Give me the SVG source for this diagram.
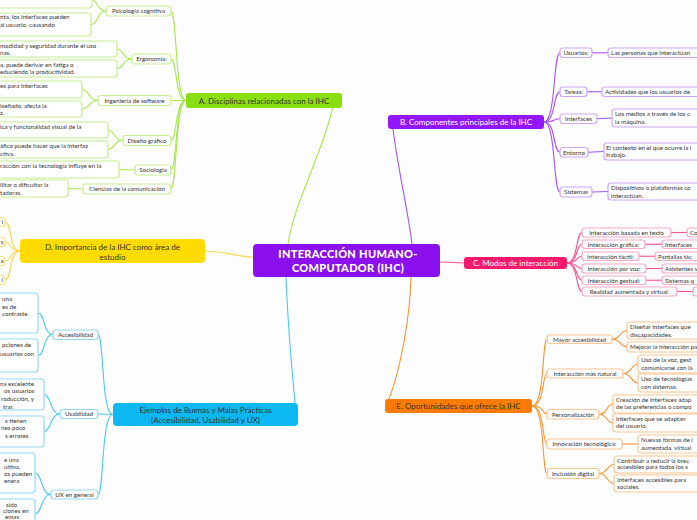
<svg xmlns="http://www.w3.org/2000/svg" width="697" height="520" viewBox="0 0 697 520">
<style>
text{font-family:Lato,"Open Sans","Noto Sans",sans-serif;fill:#333}
.t{font-size:6.2px}
.m{font-size:8px}
.c{text-anchor:middle}
.w{fill:#fff}
.g rect.s{stroke:#c6ef92}
.y rect.s{stroke:#f9e27a}
.b rect.s{stroke:#92d9f6}
.p rect.s{stroke:#cfa6fa}
.k rect.s{stroke:#f7a9c6}
.o rect.s{stroke:#fcc690}
rect.s{fill:#fff;stroke-width:1.2}
#conn path{fill:none;stroke-width:1.1}
.lg{stroke:#a6e84a}.ly{stroke:#f6d84a}.lb{stroke:#48c8f3}.lp{stroke:#a651f8}.lk{stroke:#f6528f}.lo{stroke:#fb9330}
</style>
<rect width="697" height="520" fill="#fdfdfd"/>
<g id="conn">
<path class="lg" d="M333,107 C320,160 295,200 288,244" stroke-width="1.3"/>
<path class="ly" d="M205,251 C232,252 236,257 253,257"/>
<path class="lb" d="M286,277 C288,330 292,370 295,403"/>
<path class="lp" d="M393,129 C398,170 408,210 412,244"/>
<path class="lk" d="M440,262 C450,262 455,263 464,263"/>
<path class="lo" d="M411,277 C410,320 400,370 389,399"/>
<path class="lg" d="M186,100.5 C175,100.5 177,11 171,11"/>
<path class="lg" d="M186,100.5 C175,100.5 177,59 171,59"/>
<path class="lg" d="M186,100.5 C178,100.5 177,100.5 171,100.5"/>
<path class="lg" d="M186,100.5 C175,100.5 177,140.5 171,140.5"/>
<path class="lg" d="M186,100.5 C175,100.5 177,170 171,170"/>
<path class="lg" d="M186,100.5 C175,100.5 177,189 171,189"/>
<path class="lg" d="M106,11 C97,11 98,0 92,0"/>
<path class="lg" d="M106,11 C97,11 98,24.5 91,24.5"/>
<path class="lg" d="M132,59 C122,59 124,49 117,49"/>
<path class="lg" d="M132,59 C122,59 124,68.5 117,68.5"/>
<path class="lg" d="M98,100.5 C88,100.5 90,89.5 82,89.5"/>
<path class="lg" d="M98,100.5 C88,100.5 90,109 82,109"/>
<path class="lg" d="M123,140.5 C113,140.5 115,130 108,130"/>
<path class="lg" d="M123,140.5 C113,140.5 115,149.5 108,149.5"/>
<path class="lg" d="M135,170 L119,169.5"/>
<path class="lg" d="M83,189 L68,188.5"/>
<path class="ly" d="M20,251 C9,251 12,222 5,222"/>
<path class="ly" d="M20,251 C9,251 12,242 5,242"/>
<path class="ly" d="M20,251 C9,251 12,261 5,261"/>
<path class="ly" d="M20,251 C9,251 12,280 5,280"/>
<path class="lb" d="M113,414.5 C101,414.5 104,334.5 98,334.5"/>
<path class="lb" d="M113,414.5 L98,414"/>
<path class="lb" d="M113,414.5 C101,414.5 104,494.5 98,494.5"/>
<path class="lb" d="M53,334.5 C43,334.5 45,313 38,313"/>
<path class="lb" d="M53,334.5 C43,334.5 45,355.5 38,355.5"/>
<path class="lb" d="M60,414 C50,414 51,394.5 44,394.5"/>
<path class="lb" d="M60,414 C50,414 51,431.5 44,431.5"/>
<path class="lb" d="M51,494.5 C41,494.5 42,473 35,473"/>
<path class="lb" d="M51,494.5 C41,494.5 42,514 35,514"/>
<path class="lp" d="M544,122 C556,122 553,52.75 560,52.75"/>
<path class="lp" d="M544,122 C556,122 553,91.75 560,91.75"/>
<path class="lp" d="M544,122 C556,122 553,118.75 560,118.75"/>
<path class="lp" d="M544,122 C556,122 553,152.25 560,152.25"/>
<path class="lp" d="M544,122 C556,122 553,192 560,192"/>
<path class="lp" d="M592,52.75 L608,52.75"/>
<path class="lp" d="M587,91.75 L602,91.75"/>
<path class="lp" d="M597,118.75 L612,118"/>
<path class="lp" d="M588,152.25 L604,151.5"/>
<path class="lp" d="M592,192 L608,191.5"/>
<path class="lk" d="M567,263 C578,263 576,232.5 582,232.5"/>
<path class="lk" d="M567,263 C578,263 576,244.25 582,244.25"/>
<path class="lk" d="M567,263 C578,263 576,256.25 582,256.25"/>
<path class="lk" d="M567,263 C578,263 576,268.5 582,268.5"/>
<path class="lk" d="M567,263 C578,263 576,280.25 582,280.25"/>
<path class="lk" d="M567,263 C578,263 576,291.5 582,291.5"/>
<path class="lk" d="M671,232.5 L687,232.5"/>
<path class="lk" d="M645,244.25 L662,244.25"/>
<path class="lk" d="M639,256.25 L655,256.25"/>
<path class="lk" d="M646,268.5 L662,268.5"/>
<path class="lk" d="M646,280.25 L662,280.25"/>
<path class="lk" d="M677,291.5 L693,291.5"/>
<path class="lo" d="M532,406 C545,406 542,339.25 547,339.25"/>
<path class="lo" d="M532,406 C545,406 542,373.5 547,373.5"/>
<path class="lo" d="M532,406 C545,406 542,414.25 547,414.25"/>
<path class="lo" d="M532,406 C545,406 542,444 547,444"/>
<path class="lo" d="M532,406 C545,406 542,473.5 547,473.5"/>
<path class="lo" d="M612,339.25 C621,339.25 620,330.5 627,330.5"/>
<path class="lo" d="M612,339.25 C621,339.25 620,347 627,347"/>
<path class="lo" d="M623,373.5 C632,373.5 631,364 638,364"/>
<path class="lo" d="M623,373.5 C632,373.5 631,383 638,383"/>
<path class="lo" d="M599,414.25 C608,414.25 606,404 613,404"/>
<path class="lo" d="M599,414.25 C608,414.25 606,423 613,423"/>
<path class="lo" d="M622,444 L638,444"/>
<path class="lo" d="M599,473.5 C608,473.5 607,464.5 614,464.5"/>
<path class="lo" d="M599,473.5 C608,473.5 607,483.5 614,483.5"/>
</g>

<g id="center">
<rect x="253" y="244" width="187" height="33" rx="4" fill="#8c0ff0"/>
<text class="c w" x="348" y="257.5" font-size="11" font-weight="900" letter-spacing="0.3">INTERACCIÓN HUMANO-</text>
<text class="c w" x="348" y="272" font-size="11" font-weight="900" letter-spacing="0.3">COMPUTADOR (IHC)</text>
</g>

<g id="nodeA" class="g">
<rect x="186" y="93" width="156" height="15" rx="3" fill="#8ae00e"/>
<text class="m c" x="264" y="103.5">A. Disciplinas relacionadas con la IHC</text>
</g>
<g id="a1" class="g"><rect class="s" x="106" y="6" width="65" height="10" rx="3"/><text class="t c" x="138.5" y="13.2">Psicología cognitiva</text></g>
<g id="a2" class="g"><rect class="s" x="132" y="54" width="39" height="10" rx="3"/><text class="t c" x="151.5" y="61.2">Ergonomía:</text></g>
<g id="a3" class="g"><rect class="s" x="98" y="95.5" width="73" height="10" rx="3"/><text class="t c" x="134.5" y="102.7">Ingeniería de software</text></g>
<g id="a4" class="g"><rect class="s" x="123" y="135.5" width="48" height="10" rx="3"/><text class="t c" x="147" y="142.7">Diseño gráfico</text></g>
<g id="a5" class="g"><rect class="s" x="135" y="165" width="36" height="10" rx="3"/><text class="t c" x="153" y="172.2">Sociología</text></g>
<g id="a6" class="g"><rect class="s" x="83" y="184" width="88" height="10" rx="3"/><text class="t c" x="127" y="191.2">Ciencias de la comunicación</text></g>
<g id="a1a" class="g"><rect class="s" x="-10" y="-10" width="102" height="18" rx="3"/></g>
<g id="a1b" class="g"><rect class="s" x="-10" y="13" width="101" height="23" rx="3"/><text class="t" x="0" y="19">nta, los interfaces pueden</text><text class="t" x="0" y="27">al usuario, causando</text></g>
<g id="a2a" class="g"><rect class="s" x="-10" y="41" width="127" height="16" rx="3"/><text class="t" x="0" y="48">modidad y seguridad durante el uso</text><text class="t" x="0" y="55">nas.</text></g>
<g id="a2b" class="g"><rect class="s" x="-10" y="60" width="127" height="17" rx="3"/><text class="t" x="0" y="66.5">a, puede derivar en fatiga o</text><text class="t" x="0" y="74">educiendo la productividad.</text></g>
<g id="a3a" class="g"><rect class="s" x="-10" y="81" width="92" height="17" rx="3"/><text class="t" x="0" y="88">es para interfaces</text></g>
<g id="a3b" class="g"><rect class="s" x="-10" y="101" width="92" height="16" rx="3"/><text class="t" x="0" y="107.5">iseñado, afecta la</text><text class="t" x="0" y="114.5">z.</text></g>
<g id="a4a" class="g"><rect class="s" x="-10" y="122" width="118" height="16" rx="3"/><text class="t" x="0" y="129">ica y funcionalidad visual de la</text></g>
<g id="a4b" class="g"><rect class="s" x="-10" y="141" width="118" height="17" rx="3"/><text class="t" x="0" y="148">áfico puede hacer que la interfaz</text><text class="t" x="0" y="155.5">ctiva.</text></g>
<g id="a5a" class="g"><rect class="s" x="-10" y="161" width="129" height="17" rx="3"/><text class="t" x="0" y="168">racción con la tecnología influye en la</text></g>
<g id="a6a" class="g"><rect class="s" x="-10" y="180" width="78" height="17" rx="3"/><text class="t" x="0" y="187">ilitar o dificultar la</text><text class="t" x="0" y="195">tadoras.</text></g>

<g id="nodeD" class="y">
<rect x="20" y="239" width="185" height="24" rx="4" fill="#ffdb00"/>
<text class="m c" x="112.5" y="250">D. Importancia de la IHC como área de</text>
<text class="m c" x="112.5" y="259.5">estudio</text>
</g>
<g id="d1" class="y"><rect class="s" x="-60" y="217.5" width="65" height="9" rx="3"/><text class="t" x="3" y="224.2" text-anchor="end">l</text></g>
<g id="d2" class="y"><rect class="s" x="-60" y="237.5" width="65" height="9" rx="3"/><text class="t" x="3.5" y="244.2" text-anchor="end">s</text></g>
<g id="d3" class="y"><rect class="s" x="-60" y="256.5" width="65" height="9" rx="3"/><text class="t" x="3.5" y="263.2" text-anchor="end">a</text></g>
<g id="d4" class="y"><rect class="s" x="-60" y="275.5" width="65" height="9" rx="3"/><text class="t" x="3" y="282.2" text-anchor="end">l</text></g>

<g id="nodeEj" class="b">
<rect x="113" y="403" width="185" height="23" rx="4" fill="#0bb8f2"/>
<text class="m c" x="205.5" y="412.5" fill="#263440">Ejemplos de Buenas y Malas Prácticas</text>
<text class="m c" x="205.5" y="422.5" fill="#263440">(Accesibilidad, Usabilidad y UX)</text>
</g>
<g id="ej1" class="b"><rect class="s" x="53" y="330" width="45" height="9.5" rx="3"/><text class="t c" x="75.5" y="337">Accesibilidad</text></g>
<g id="ej2" class="b"><rect class="s" x="60" y="409.5" width="38" height="9" rx="3"/><text class="t c" x="79" y="416.3">Usabilidad</text></g>
<g id="ej3" class="b"><rect class="s" x="51" y="490" width="47" height="9" rx="3"/><text class="t c" x="74.5" y="496.8">UX en general</text></g>
<g id="ej1a" class="b"><rect class="s" x="-10" y="293" width="48" height="40" rx="3"/><text class="t" x="2" y="301">una</text><text class="t" x="2" y="308.5">es de</text><text class="t" x="2" y="316">contraste.</text></g>
<g id="ej1b" class="b"><rect class="s" x="-10" y="339" width="48" height="33" rx="3"/><text class="t" x="2" y="347">pciones de</text><text class="t" x="0" y="356">usuarios con</text></g>
<g id="ej2a" class="b"><rect class="s" x="-10" y="379" width="54" height="31" rx="3"/><text class="t" x="0" y="386">na excelente</text><text class="t" x="4" y="393">os usuarios</text><text class="t" x="1" y="401">roducción, y</text><text class="t" x="3" y="409">trar.</text></g>
<g id="ej2b" class="b"><rect class="s" x="-10" y="416" width="54" height="31" rx="3"/><text class="t" x="5" y="422.5">s tienen</text><text class="t" x="1" y="430">nes poco</text><text class="t" x="5" y="438">s errores</text></g>
<g id="ej3a" class="b"><rect class="s" x="-10" y="453" width="45" height="40" rx="3"/><text class="t" x="4" y="462">e una</text><text class="t" x="4" y="469">uitiva,</text><text class="t" x="4" y="476">os pueden</text><text class="t" x="4" y="483">enera</text></g>
<g id="ej3b" class="b"><rect class="s" x="-10" y="499" width="45" height="30" rx="3"/><text class="t" x="6" y="506.5">sido</text><text class="t" x="3" y="513">ciones en</text><text class="t" x="5" y="519">emas</text></g>

<g id="nodeB" class="p">
<rect x="388" y="115" width="156" height="14" rx="3" fill="#9416fd"/>
<text class="m c w" x="466" y="124.8">B. Componentes principales de la IHC</text>
</g>
<g id="b1" class="p"><rect class="s" x="560" y="48" width="32" height="9.5" rx="3"/><text class="t c" x="576" y="55">Usuarios:</text></g>
<g id="b2" class="p"><rect class="s" x="560" y="87" width="27" height="9.5" rx="3"/><text class="t c" x="573.5" y="94">Tareas:</text></g>
<g id="b3" class="p"><rect class="s" x="560" y="114" width="37" height="9.5" rx="3"/><text class="t c" x="578.5" y="121">Interfaces</text></g>
<g id="b4" class="p"><rect class="s" x="560" y="147.5" width="28" height="9.5" rx="3"/><text class="t c" x="574" y="154.5">Entorno</text></g>
<g id="b5" class="p"><rect class="s" x="560" y="187" width="32" height="10" rx="3"/><text class="t c" x="576" y="194.3">Sistemas</text></g>
<g id="b1a" class="p"><rect class="s" x="608" y="48" width="120" height="9.5" rx="3"/><text class="t" x="611" y="55">Las personas que interactúan</text></g>
<g id="b2a" class="p"><rect class="s" x="602" y="87" width="120" height="9.5" rx="3"/><text class="t" x="605" y="94">Actividades que los usuarios de</text></g>
<g id="b3a" class="p"><rect class="s" x="612" y="109" width="120" height="18" rx="3"/><text class="t" x="615" y="116">Los medios a través de los c</text><text class="t" x="615" y="123.5">la máquina.</text></g>
<g id="b4a" class="p"><rect class="s" x="604" y="143" width="120" height="17" rx="3"/><text class="t" x="606" y="150">El contexto en el que ocurre la i</text><text class="t" x="606" y="157">trabajo.</text></g>
<g id="b5a" class="p"><rect class="s" x="608" y="183" width="120" height="17" rx="3"/><text class="t" x="611" y="190">Dispositivos o plataformas co</text><text class="t" x="611" y="197.5">interactúan.</text></g>

<g id="nodeC" class="k">
<rect x="464" y="257" width="103" height="12" rx="3" fill="#f5196e"/>
<text class="m c w" x="515.5" y="265.8">C. Modos de interacción</text>
</g>
<g id="c1" class="k"><rect class="s" x="582" y="228" width="89" height="9" rx="3"/><text class="t c" x="626.5" y="234.8">Interacción basada en texto</text></g>
<g id="c2" class="k"><rect class="s" x="582" y="240" width="63" height="8.5" rx="3"/><text class="t c" x="613.5" y="246.5">Interacción gráfica:</text></g>
<g id="c3" class="k"><rect class="s" x="582" y="252" width="57" height="8.5" rx="3"/><text class="t c" x="610.5" y="258.5">Interacción táctil:</text></g>
<g id="c4" class="k"><rect class="s" x="582" y="264" width="64" height="9" rx="3"/><text class="t c" x="614" y="270.8">Interacción por voz:</text></g>
<g id="c5" class="k"><rect class="s" x="582" y="276" width="64" height="8.5" rx="3"/><text class="t c" x="614" y="282.5">Interacción gestual:</text></g>
<g id="c6" class="k"><rect class="s" x="582" y="287" width="95" height="9" rx="3"/><text class="t c" x="629.5" y="293.8">Realidad aumentada y virtual:</text></g>
<g id="c1a" class="k"><rect class="s" x="687" y="228" width="60" height="9" rx="3"/><text class="t" x="690" y="234.8">Co</text></g>
<g id="c2a" class="k"><rect class="s" x="662" y="240" width="60" height="8.5" rx="3"/><text class="t" x="665" y="246.5">Interfaces</text></g>
<g id="c3a" class="k"><rect class="s" x="655" y="252" width="60" height="8.5" rx="3"/><text class="t" x="658" y="258.5">Pantallas tác</text></g>
<g id="c4a" class="k"><rect class="s" x="662" y="264" width="60" height="9" rx="3"/><text class="t" x="665" y="270.8">Asistentes v</text></g>
<g id="c5a" class="k"><rect class="s" x="662" y="276" width="60" height="8.5" rx="3"/><text class="t" x="665" y="282.5">Sistemas q</text></g>
<g id="c6a" class="k"><rect class="s" x="693" y="287" width="60" height="9" rx="3"/></g>

<g id="nodeE" class="o">
<rect x="385" y="399" width="147" height="14" rx="3" fill="#ff7b00"/>
<text class="m c" x="458.5" y="408.8">E. Oportunidades que ofrece la IHC</text>
</g>
<g id="e1" class="o"><rect class="s" x="547" y="335" width="65" height="8.5" rx="3"/><text class="t c" x="579.5" y="341.5">Mayor accesibilidad</text></g>
<g id="e2" class="o"><rect class="s" x="547" y="369" width="76" height="9" rx="3"/><text class="t c" x="585" y="375.8">Interacción más natural</text></g>
<g id="e3" class="o"><rect class="s" x="547" y="409.5" width="52" height="9.5" rx="3"/><text class="t c" x="573" y="416.5">Personalización</text></g>
<g id="e4" class="o"><rect class="s" x="547" y="439" width="75" height="10" rx="3"/><text class="t c" x="584.5" y="446.3">Innovación tecnológica:</text></g>
<g id="e5" class="o"><rect class="s" x="547" y="468.5" width="52" height="10" rx="3"/><text class="t c" x="573" y="475.8">Inclusión digital</text></g>
<g id="e1a" class="o"><rect class="s" x="627" y="322" width="100" height="17" rx="3"/><text class="t" x="630" y="329">Diseñar interfaces que</text><text class="t" x="630" y="336.5">discapacidades.</text></g>
<g id="e1b" class="o"><rect class="s" x="627" y="342" width="100" height="10" rx="3"/><text class="t" x="630" y="349.2">Mejorar la interacción pa</text></g>
<g id="e2a" class="o"><rect class="s" x="638" y="355" width="100" height="18" rx="3"/><text class="t" x="641" y="362">Uso de la voz, gest</text><text class="t" x="641" y="369.5">comunicarse con la</text></g>
<g id="e2b" class="o"><rect class="s" x="638" y="374" width="100" height="18" rx="3"/><text class="t" x="641" y="381">Uso de tecnologías</text><text class="t" x="641" y="388.5">con sistemas.</text></g>
<g id="e3a" class="o"><rect class="s" x="613" y="395" width="100" height="18" rx="3"/><text class="t" x="616" y="401.5">Creación de interfaces adap</text><text class="t" x="616" y="408.5">de las preferencias o compo</text></g>
<g id="e3b" class="o"><rect class="s" x="613" y="414" width="100" height="18" rx="3"/><text class="t" x="616" y="420.5">Interfaces que se adaptan</text><text class="t" x="616" y="428">del usuario.</text></g>
<g id="e4a" class="o"><rect class="s" x="638" y="435" width="100" height="18" rx="3"/><text class="t" x="641" y="442">Nuevas formas de i</text><text class="t" x="641" y="449.5">aumentada, virtual</text></g>
<g id="e5a" class="o"><rect class="s" x="614" y="456" width="100" height="17" rx="3"/><text class="t" x="617" y="462.5">Contribuir a reducir la brec</text><text class="t" x="617" y="469">accesibles para todos los s</text></g>
<g id="e5b" class="o"><rect class="s" x="614" y="475" width="100" height="17" rx="3"/><text class="t" x="617" y="481.5">Interfaces accesibles para</text><text class="t" x="617" y="489">sociales.</text></g>
</svg>
